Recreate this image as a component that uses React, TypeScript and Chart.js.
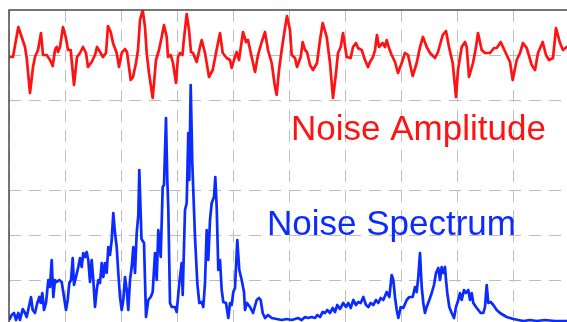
import { useEffect, useRef } from "react";
import { Chart, registerables } from "chart.js";

Chart.register(...registerables);

// Noise amplitude (time trace), arbitrary units
const AMP_TIME = [
  0.3, 4, 9.3, 12.7, 16, 17.7, 21, 24, 26, 29,
  32, 34, 37.7, 41, 43.7, 46, 47.7, 49, 51, 54,
  56.7, 59, 61.7, 65, 68, 71, 74, 77, 79, 82.7,
  86, 88, 91, 94, 97, 99, 101.7, 104, 107.7, 110,
  112.7, 116, 118, 121.7, 124, 127, 129, 131, 133.7, 136,
  137.7, 140, 143.7, 147, 150, 152.7, 155, 157.7, 159, 161.7,
  164, 167, 169, 171, 173.5, 174.5, 177.7, 180, 182, 184,
  187.7, 191, 192.7, 196, 200, 203.7, 207, 211, 213.7, 217.7,
  221, 222.7, 225, 227.7, 230, 234, 237, 239, 242.7, 246,
  249, 252.7, 256, 259, 262.7, 266, 267.7, 270, 272.7, 276,
  278, 281, 282.7, 286, 288, 291.7, 293.7, 296, 298, 301,
  304, 308, 311, 313.7, 317.7, 321, 324, 327, 329, 331.7,
  334, 337.7, 341.7, 344, 347, 349, 352.7, 356, 359, 361,
  364, 366, 368, 370, 373.7, 376, 377.7, 380, 382.7, 386,
  389, 392.7, 396, 399, 403.7, 407.7, 411, 414, 417.7, 421,
  426, 429, 433.7, 437, 440, 443.7, 447, 449, 452.7, 456,
  457.7, 460, 464, 467, 469, 472.7, 476, 481, 485, 487.7,
  491.7, 494, 497.7, 501, 503.7, 507.7, 511, 514, 517.7, 522.7,
  526, 529, 533.7, 537, 540, 544, 547, 551, 554, 557.7,
  560,
];
const AMP_VALUE = [
  -2, -2, 28, 18, 8, -3, -38, -12, -2, 5,
  22, 0, 0, -5, -11, 5, 8, 3, 8, 28,
  18, 5, 5, -30, -2, 2, 8, 2, -12, -7,
  0, 8, 3, -2, 2, 29, 23, 12, 2, -12,
  2, 6, 3, -25, -22, -8, 5, 35, 45, 28,
  2, -18, -43, -5, 5, 18, 30, 18, -2, 0,
  -8, -28, -2, 2, 0, 12, 41, 25, 3, 2,
  -7, 8, 15, 2, -22, -15, 2, 22, 2, -3,
  -5, -13, -5, 3, -5, 23, 13, 15, -2, -17,
  0, 13, 23, 5, -8, -32, -40, -15, 5, 27,
  39, 25, 0, -3, -12, -2, 13, 5, 3, -10,
  -15, -8, 15, 32, 18, -8, -43, -18, 2, 8,
  22, -2, -3, 8, 12, 7, 5, -5, -12, -7,
  -2, 5, 20, 8, 12, 8, 15, 7, 0, -7,
  -18, -8, 2, 0, -21, -8, 8, 18, 8, 2,
  -3, 3, 20, 24, 8, -8, -42, -15, 8, 13,
  8, -22, -8, 8, 22, 5, 2, 2, 7, 7,
  13, 8, 0, -7, -25, -5, 2, 12, 7, -10,
  -15, 2, 13, 0, -5, -3, 27, 12, 5, 8,
  9,
];

// Noise spectrum, arbitrary units
const SPEC_FREQ = [
  0.3, 2.7, 5, 7, 9.3, 11, 13.7, 16, 17.7, 20.3,
  22, 23.7, 26, 28.3, 30.3, 31.7, 33.3, 35, 37, 39.3,
  41, 42.7, 44.3, 46, 47.7, 50.3, 52.7, 55, 57, 58.7,
  60.3, 62, 63.7, 65, 67, 69.3, 71, 72.7, 74.3, 76,
  77.7, 79.3, 81, 82.7, 84.3, 86, 87.7, 89.3, 91, 92.7,
  94.3, 96, 97.7, 99.3, 101, 102.7, 104.3, 106, 107.7, 109.3,
  111, 112.7, 114.3, 116, 117.7, 119.3, 121, 122.7, 124.3, 126,
  127.7, 129.3, 130.3, 132.5, 135, 137, 139.3, 141.7, 143.7, 146,
  147.7, 149.3, 151.7, 153.7, 155, 157, 158.3, 159.3, 161, 162.7,
  166, 167.7, 170.3, 172.7, 173.7, 176, 177.7, 179.3, 180.3, 181.7,
  183.3, 185, 186, 187, 188.3, 190.3, 192.7, 194.3, 196, 197.7,
  199.3, 201, 202.7, 205, 206.3, 207.7, 209.3, 211, 212.7, 214.3,
  217, 219.3, 221, 222.7, 224.3, 226, 228.3, 230.3, 232.7, 235,
  236, 238, 241, 244, 247.7, 250, 251.7, 253.7, 256, 259,
  262.7, 267.7, 272.7, 277.7, 282.7, 286, 289, 292.7, 296, 299,
  302.7, 306, 308.3, 311, 313.7, 316, 318.3, 321, 323.7, 326,
  328.3, 331, 334.3, 337, 339.3, 341.7, 344.3, 347, 349.3, 351.7,
  354.3, 357, 359.3, 361.7, 364.3, 367, 369.3, 371.7, 374.3, 377.7,
  380.3, 382.7, 384.3, 386, 387.7, 389.3, 391.7, 394.3, 397.7, 400.3,
  403.7, 406, 407.7, 409.3, 411, 412.7, 414.3, 416, 417.7, 420.3,
  422.7, 425, 427, 429.3, 431, 432.7, 434.3, 436, 437, 438.3,
  440.3, 442.7, 445, 447, 449.3, 451, 452.7, 455, 457, 459.3,
  461, 462.7, 464.3, 467, 469.3, 471.7, 474.3, 476, 477.7, 479.3,
  481.7, 484.3, 487.7, 491, 494.3, 497.7, 501, 504.3, 509.3, 514.3,
  521, 527.7, 536, 546, 558,
];
const SPEC_MAG = [
  6, 11, 13, 6, 13, 6, 17, 13, 9, 21,
  29, 16, 13, 23, 29, 23, 33, 16, 23, 46,
  39, 66, 29, 46, 44, 46, 44, 29, 16, 26,
  43, 46, 68, 41, 49, 59, 68, 59, 73, 69,
  74, 66, 44, 66, 46, 19, 36, 46, 43, 63,
  49, 63, 53, 79, 71, 86, 113, 93, 79, 53,
  29, 16, 26, 49, 36, 16, 46, 59, 79, 53,
  93, 111, 156, 87, 83, 9, 26, 29, 34, 73,
  46, 96, 69, 139, 141, 208, 146, 118, 23, 19,
  19, 14, 43, 63, 31, 116, 123, 193, 146, 241,
  163, 116, 89, 69, 43, 23, 24, 19, 43, 96,
  66, 106, 123, 129, 149, 119, 56, 66, 36, 24,
  23, 8, 23, 21, 34, 38, 86, 56, 46, 34,
  16, 23, 19, 13, 26, 28, 26, 13, 8, 11,
  8, 7, 6, 7, 6, 7, 8, 6, 9, 8,
  9, 8, 11, 9, 14, 13, 16, 13, 18, 14,
  21, 17, 23, 19, 23, 18, 26, 21, 24, 23,
  29, 21, 19, 23, 21, 26, 23, 28, 26, 34,
  29, 51, 46, 29, 16, 8, 19, 18, 26, 29,
  29, 39, 34, 49, 73, 39, 23, 13, 19, 26,
  33, 41, 53, 58, 46, 59, 53, 59, 46, 33,
  19, 13, 8, 19, 26, 33, 26, 36, 33, 36,
  26, 33, 23, 19, 16, 13, 13, 19, 41, 23,
  24, 21, 16, 13, 11, 9, 8, 7, 6, 5,
  6, 5, 6, 5, 5,
];

// Horizontal grid ticks (one level has no grid line in the source)
const Y_GRID = [45.1, 90.3, 135.4, 225.7, 270.9];
const SERIES_LABELS = ["Noise Amplitude", "Noise Spectrum"];
// label anchor points in data units: [x, y] on each series' own axis
const LABEL_AT_X = [282, 258];
const LABEL_AT_Y = [-85, 91];

const RED = "#ff1212";
const BLUE = "#0b2bff";

export default function App() {
  const ref = useRef<HTMLCanvasElement | null>(null);

  useEffect(() => {
    document.body.style.margin = "0";
    document.body.style.overflow = "hidden";
    const canvas = ref.current;
    if (!canvas) return;

    const framePlugin = {
      id: "frameAndLabels",
      afterDatasetsDraw(chart: any) {
        const { ctx, chartArea } = chart;
        ctx.save();
        ctx.strokeStyle = "#4a4a4a";
        ctx.lineWidth = 1.5;
        ctx.setLineDash([]);
        ctx.strokeRect(chartArea.left, chartArea.top, chartArea.right - chartArea.left, chartArea.bottom - chartArea.top);
        ctx.font = '35px "Liberation Sans", Arial, sans-serif';
        ctx.textBaseline = "alphabetic";
        ctx.textAlign = "left";
        chart.data.datasets.forEach((ds: any, i: number) => {
          const xs = chart.scales.x;
          const ys = chart.scales[ds.yAxisID];
          ctx.fillStyle = ds.borderColor;
          ctx.fillText(ds.label, xs.getPixelForValue(LABEL_AT_X[i]), ys.getPixelForValue(LABEL_AT_Y[i]));
        });
        ctx.restore();
      },
    };

    const gridCfg = {
      color: "#bdbdbd",
      lineWidth: 1,
      drawTicks: false,
    };
    const borderCfg = { display: false, dash: [12, 8] };

    const chart = new Chart(canvas, {
      type: "line",
      data: {
        datasets: [
          {
            label: SERIES_LABELS[0],
            data: AMP_TIME.map((t, i) => ({ x: t, y: AMP_VALUE[i] })),
            yAxisID: "yAmp",
            borderColor: RED,
            borderWidth: 2.7,
            borderJoinStyle: "round",
            pointRadius: 0,
            tension: 0,
            fill: false,
          },
          {
            label: SERIES_LABELS[1],
            data: SPEC_FREQ.map((f, i) => ({ x: f, y: SPEC_MAG[i] })),
            yAxisID: "y",
            borderColor: BLUE,
            borderWidth: 2.7,
            borderJoinStyle: "round",
            pointRadius: 0,
            tension: 0,
            fill: false,
          },
        ],
      },
      options: {
        responsive: false,
        devicePixelRatio: 1,
        animation: false,
        events: [],
        layout: { padding: { left: 9, top: 10, right: 11, bottom: 14 } },
        plugins: { legend: { display: false }, tooltip: { enabled: false }, title: { display: false } },
        scales: {
          x: {
            type: "linear",
            min: 0,
            max: 560,
            ticks: { display: false, stepSize: 56 },
            grid: gridCfg,
            border: borderCfg,
          },
          y: {
            type: "linear",
            min: 0,
            max: 316,
            ticks: { display: false },
            afterBuildTicks: (scale: any) => {
              scale.ticks = Y_GRID.map((v) => ({ value: v }));
            },
            grid: gridCfg,
            border: borderCfg,
          },
          yAmp: {
            type: "linear",
            min: -271,
            max: 45,
            display: false,
          },
        },
      } as any,
      plugins: [framePlugin],
    });

    return () => chart.destroy();
  }, []);

  return (
    <div style={{ position: "fixed", left: 0, top: 0, width: 580, height: 340, background: "#fff" }}>
      <canvas ref={ref} width={580} height={340} style={{ display: "block" }} />
    </div>
  );
}
